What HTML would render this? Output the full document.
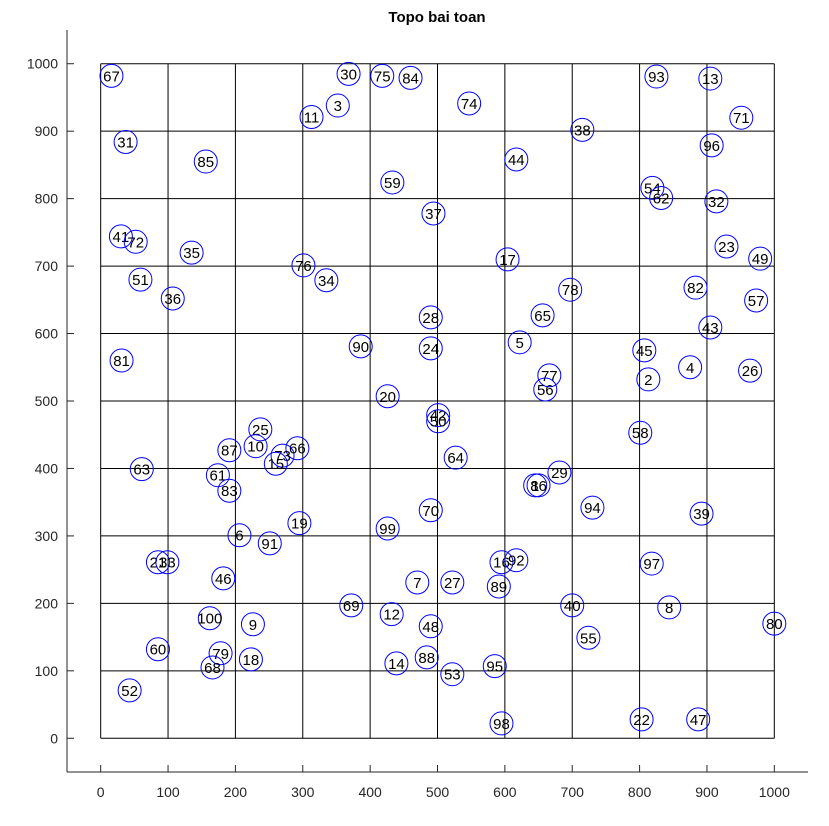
<!DOCTYPE html>
<html><head><meta charset="utf-8"><style>
html,body{margin:0;padding:0;background:#fff;}
svg{display:block;font-family:"Liberation Sans",Arial,sans-serif;}
</style></head><body>
<svg id="chart" width="829" height="826" viewBox="0 0 829 826">
<text x="437" y="22" text-anchor="middle" font-size="15" font-weight="bold" fill="#000">Topo bai toan</text>
<g id="grid"></g>
<g id="axes"></g>
<g id="nodes"></g>
</svg>
<script>
const nodeIds=[67,30,75,84,93,13,3,11,74,71,31,38,96,85,44,59,54,62,32,37,41,72,35,23,49,17,76,34,51,82,78,57,36,65,28,43,5,90,24,45,81,4,26,77,2,56,20,42,50,58,25,10,87,66,73,15,64,63,61,29,1,86,83,94,70,39,19,99,6,91,16,92,21,33,97,46,7,27,89,40,69,8,100,12,9,80,48,55,60,79,18,88,68,14,95,53,52,98,22,47];
const nodeX=[16,368,418,460,825,905,352,313,547,951,37,715,907,156,617,433,819,832,914,494,30,52,135,929,979,604,301,335,59,883,697,973,107,656,490,905,622,386,490,807,31,875,964,666,813,660,426,501,501,801,237,230,191,292,270,260,527,61,174,681,645,650,191,730,490,892,295,426,206,251,595,617,85,99,818,182,470,522,591,700,372,844,162,432,226,1000,490,724,85,178,223,484,166,439,585,522,43,595,803,887];
const nodeY=[982,985,982,979,981,978,938,921,941,920,884,902,879,855,858,824,816,801,796,778,744,736,720,729,711,710,701,679,680,668,665,649,652,627,624,609,587,581,578,575,560,550,545,538,532,517,507,479,470,453,458,433,427,430,419,407,416,399,390,394,375,375,367,342,338,333,319,311,301,289,261,264,261,261,259,237,231,231,225,197,197,194,178,184,169,170,166,149,132,126,117,120,105,111,107,95,71,22,28,28];
const xTicks=[0,100,200,300,400,500,600,700,800,900,1000];
const yTicks=[0,100,200,300,400,500,600,700,800,900,1000];
const gridVals=[0,100,200,300,400,500,600,700,800,900,1000];
const NS="http://www.w3.org/2000/svg";
const L=67,R=808,T=30,B=772,XMIN=-50,XMAX=1050,YMIN=-50,YMAX=1050;
function sx(v){return L+(v-XMIN)/(XMAX-XMIN)*(R-L);}
function sy(v){return B-(v-YMIN)/(YMAX-YMIN)*(B-T);}
function mk(tag,attrs,parent){const e=document.createElementNS(NS,tag);for(const k in attrs)e.setAttribute(k,attrs[k]);parent.appendChild(e);return e;}
const grid=document.getElementById('grid'),axes=document.getElementById('axes'),nodes=document.getElementById('nodes');
const g0=gridVals[0],g1=gridVals[gridVals.length-1];
gridVals.forEach(v=>{
  const a=mk('line',{x1:sx(v),x2:sx(v),y1:sy(g0),y2:sy(g1),stroke:'#000','stroke-width':1},grid);
  
  
  const b=mk('line',{x1:sx(g0),x2:sx(g1),y1:sy(v),y2:sy(v),stroke:'#000','stroke-width':1},grid);
  
  
});
const xa=mk('line',{x1:L,x2:R,y1:B,y2:B,stroke:'#262626','stroke-width':1},axes);


const ya=mk('line',{x1:L,x2:L,y1:T,y2:B,stroke:'#262626','stroke-width':1},axes);


xTicks.forEach(v=>{
  const t=mk('line',{x1:sx(v),x2:sx(v),y1:B,y2:B-7,stroke:'#262626'},axes);
  
  
  const l=mk('text',{x:sx(v),y:B+25,'text-anchor':'middle','font-size':14,fill:'#262626'},axes);
  l.textContent=v;
  
  
});
yTicks.forEach(v=>{
  const t=mk('line',{x1:L,x2:L+7,y1:sy(v),y2:sy(v),stroke:'#262626'},axes);
  
  
  const l=mk('text',{x:L-9,y:sy(v)+5,'text-anchor':'end','font-size':14,fill:'#262626'},axes);
  l.textContent=v;
  
  
});
nodeIds.forEach((id,i)=>{
  const g=mk('g',{},nodes);
  
  
  mk('circle',{cx:sx(nodeX[i]),cy:sy(nodeY[i]),r:11.5,fill:'none',stroke:'#0000ff','stroke-width':1},g);
  const t=mk('text',{x:sx(nodeX[i]),y:sy(nodeY[i])+5.5,'text-anchor':'middle','font-size':15,fill:'#000'},g);
  t.textContent=id;
});
</script>
</body></html>
